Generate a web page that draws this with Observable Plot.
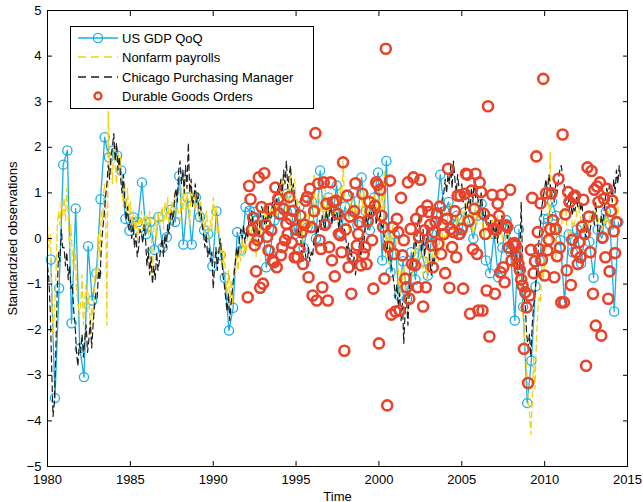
<!DOCTYPE html>
<html>
<head>
<meta charset="utf-8">
<script src="https://cdn.jsdelivr.net/npm/d3@7"></script>
<script src="https://cdn.jsdelivr.net/npm/@observablehq/plot@0.6"></script>
<style>
  html, body { margin: 0; padding: 0; background: #fff; }
  #chart { width: 643px; height: 502px; }
</style>
</head>
<body>
<div id="chart"></div>
<script>
// ---- Series names ----
const seriesNames = ["US GDP QoQ", "Nonfarm payrolls", "Chicago Purchasing Manager", "Durable Goods Orders"];
const xTicks = [1980, 1985, 1990, 1995, 2000, 2005, 2010, 2015];
const yTicks = [-5, -4, -3, -2, -1, 0, 1, 2, 3, 4, 5];

// ---- US GDP QoQ (quarterly, standardized) ----
const gdpStart = 1980.2;
const gdpValues = [
  -0.46,-3.5,-1.09,1.62,1.93,-1.86,0.66,-2.41,-3.04,-0.17,-1.36,-0.76,0.86,2.22,1.78,1.93,
  1.82,1.49,0.43,0.17,0.46,0.36,1.23,0.1,0.36,-0.25,0.47,-0.2,0.03,0.63,0.36,1.37,
  -0.13,0.9,-0.13,0.9,0.47,0.18,0.1,-0.61,0.6,-0.37,-0.86,-2.02,-1.52,0.14,-0.26,0.69,
  0.61,0.58,0.44,0.5,-0.63,-0.26,0.4,0.9,0.5,0.98,0.6,0.1,0.7,-0.2,0.25,0.8,
  0.0,1.49,0.33,0.9,0.5,1.16,0.13,0.7,0.47,1.0,0.3,1.34,0.6,0.18,0.9,1.45,
  -0.48,1.7,-0.74,0.09,-1.25,-0.5,-1.32,-0.3,-0.9,-0.15,-0.5,-0.81,0.1,0.36,1.4,0.6,
  0.8,0.3,0.5,0.1,0.58,0.4,0.0,0.5,0.76,-0.48,-0.76,0.1,-0.85,-0.2,0.4,-0.3,
  -1.8,0.2,-1.5,-3.61,-2.68,-1.05,-0.48,0.43,0.44,0.8,0.5,-0.04,-1.4,0.09,-0.3,0.2,
  -0.55,0.1,-0.07,-0.86,0.2,0.0,0.59,0.3,-1.6,0.36
];

// ---- Nonfarm payrolls (monthly from Jan 1980) ----
const nfpStart = 1980;
const nfpValues = [
  0.3,-0.2,0.1,-1.0,-2.2,-1.6,-0.9,0.2,0.6,0.3,0.8,0.5,
  0.9,0.4,1.1,0.5,-0.2,0.3,-0.4,-0.7,-0.2,-1.1,-1.4,-1.7,
  -1.5,-0.8,-1.9,-1.3,-1.0,-1.6,-1.2,-2.1,-1.5,-1.8,-1.0,-0.6,
  -0.9,0.1,-0.4,0.6,0.4,1.2,1.0,-1.9,2.8,1.4,1.9,1.2,
  2.0,1.6,1.2,1.9,1.4,1.8,1.0,0.7,1.2,0.6,1.1,0.4,
  0.8,0.3,0.6,0.2,0.5,-0.1,0.4,0.3,0.6,0.2,0.5,0.3,
  0.5,0.1,0.6,0.3,-0.9,0.2,0.5,0.0,0.6,0.3,0.5,0.7,
  0.2,0.8,0.4,0.9,0.3,0.6,0.8,0.4,1.0,0.6,0.7,0.5,
  0.4,1.1,0.6,1.3,0.5,1.0,0.7,0.3,1.2,0.8,1.0,0.6,
  0.9,0.6,0.4,0.8,0.2,0.5,0.1,0.6,0.3,0.0,0.4,0.2,
  0.9,0.5,0.7,0.1,0.3,-0.3,-0.1,-0.6,-0.3,-0.9,-1.2,-0.7,
  -1.5,-0.9,-1.4,-0.6,-0.8,-0.3,-0.7,-0.2,-0.5,0.0,-0.4,-0.1,
  -0.3,0.1,0.3,-0.2,0.4,0.0,0.3,-0.4,0.2,0.5,0.1,0.4,
  0.6,0.8,0.2,0.7,0.4,0.3,0.8,0.5,0.6,0.9,0.5,0.8,
  0.6,0.9,1.3,0.8,1.0,0.6,1.2,0.7,1.5,0.9,1.1,1.3,
  0.7,0.9,0.3,0.5,-0.2,0.4,0.1,0.6,0.3,0.5,0.2,0.4,
  0.3,1.4,0.5,0.7,1.0,0.8,0.6,0.9,0.4,1.1,0.7,0.5,
  0.8,0.6,1.0,0.7,0.5,0.9,0.6,0.2,1.1,0.8,1.7,0.9,
  0.7,0.5,0.2,0.6,1.0,0.5,0.3,0.8,0.6,0.4,0.9,1.0,
  0.6,1.1,0.3,0.8,0.4,0.7,0.9,0.3,0.5,1.0,0.7,0.6,
  0.9,0.3,1.2,0.6,1.5,-0.4,0.2,-0.6,0.1,-0.2,0.4,0.3,
  0.0,-0.3,-0.6,-1.3,-0.7,-0.9,-0.6,-1.0,-1.4,-1.6,-1.2,-0.9,
  -0.8,-0.5,-0.2,-0.6,-0.3,-0.1,-0.4,-0.6,-0.8,-0.3,-0.5,-0.9,
  -0.3,-0.7,-0.5,-0.2,-0.4,-0.1,-0.3,-0.5,0.0,0.2,0.1,-0.2,
  0.2,0.0,0.6,0.5,0.8,0.2,0.3,0.2,0.3,0.6,0.4,0.3,
  0.3,0.6,0.4,0.8,0.3,0.5,0.6,0.4,0.1,0.2,0.8,0.3,
  0.5,0.6,0.5,0.3,0.0,0.2,0.3,0.2,0.1,0.0,0.4,0.3,
  0.4,0.0,0.5,0.1,0.3,0.1,-0.1,-0.3,0.2,0.0,0.3,-0.2,
  -0.3,-0.6,-0.5,-0.7,-0.5,-0.8,-0.9,-1.1,-1.6,-1.9,-2.4,-2.9,
  -3.5,-3.8,-4.3,-3.6,-2.6,-3.3,-2.3,-1.6,-1.3,-1.4,-0.6,-0.9,
  -0.5,-0.2,0.3,0.6,1.9,-0.4,-0.3,-0.2,-0.5,0.4,0.3,0.2,
  0.1,0.6,0.7,0.8,0.3,0.1,0.2,0.0,0.4,0.3,0.4,0.5,
  0.8,0.6,0.5,0.2,0.3,0.1,0.3,0.4,0.3,0.5,0.4,0.6,
  0.4,0.8,0.3,0.4,0.5,0.5,0.2,0.4,0.3,0.5,0.6,0.2,
  0.3,0.4,0.6,0.9,0.5,0.7,0.5,0.4
];

// ---- Chicago Purchasing Manager (monthly from Jan 1980) ----
const pmiStart = 1980;
const pmiValues = [
  -0.6,-0.9,-1.6,-2.8,-3.9,-3.6,-2.5,-1.2,-0.3,-0.5,0.2,-0.2,
  -0.2,-0.6,-0.3,-0.9,-0.6,-1.1,-1.0,-1.6,-1.9,-2.5,-2.8,-2.3,
  -2.5,-2.1,-2.6,-2.2,-1.9,-2.5,-2.2,-1.8,-2.4,-1.9,-1.5,-1.2,
  -1.3,-0.7,-0.9,-0.2,0.2,0.5,0.9,1.2,1.6,1.3,1.8,2.0,
  2.3,1.7,2.1,1.5,1.8,1.3,1.0,1.4,0.8,0.4,0.7,0.2,
  0.4,0.0,0.3,-0.2,0.1,-0.4,-0.2,0.2,0.1,-0.1,0.3,0.0,
  -0.6,-0.2,-0.8,-0.4,-1.0,-0.6,-0.9,-0.3,-0.7,-0.5,-0.2,0.0,
  -0.4,0.1,-0.2,0.3,0.1,0.5,0.6,0.3,0.9,1.1,0.8,1.5,
  1.7,1.2,1.5,1.0,1.6,1.1,2.1,1.0,1.3,0.7,0.9,1.2,
  0.8,1.0,0.5,0.7,0.3,0.1,-0.2,0.1,-0.4,-0.2,-0.5,-0.3,
  -1.1,-0.6,-0.2,-0.7,-0.3,0.0,-0.3,-0.8,-1.0,-1.3,-1.6,-1.2,
  -1.8,-1.4,-1.1,-0.8,-0.5,-0.2,-0.4,0.0,0.2,0.0,0.3,-0.1,
  0.2,0.0,0.5,0.3,0.6,0.2,0.1,0.4,0.3,-0.1,0.5,0.7,
  0.6,0.3,0.5,0.2,0.7,0.3,0.5,0.8,0.6,1.0,0.8,1.2,
  1.0,1.3,0.9,1.5,1.2,1.7,1.1,1.4,1.6,1.0,1.2,0.9,
  0.7,0.4,0.1,0.2,-0.3,-0.5,-0.1,-0.4,-0.6,-0.2,-0.5,-0.3,
  -0.4,0.0,-0.2,0.3,0.1,0.4,0.2,0.5,0.3,0.2,0.6,0.4,
  0.5,0.8,0.3,0.6,0.4,0.7,0.5,0.2,0.6,0.3,0.1,0.2,
  0.0,-0.3,-0.1,-0.5,-0.2,-0.7,-0.4,-0.8,-0.5,-0.3,-0.1,-0.4,
  0.1,-0.2,0.3,0.5,0.2,0.6,0.4,0.7,0.5,0.8,0.3,0.5,
  0.4,0.6,0.2,0.3,0.0,-0.3,-0.1,-0.5,-0.2,-0.6,-0.8,-1.0,
  -1.3,-1.0,-1.5,-1.2,-1.8,-1.4,-2.3,-1.6,-1.3,-1.9,-1.1,-0.8,
  -0.6,-0.3,0.1,-0.2,0.3,0.5,0.0,-0.3,0.2,-0.4,-0.1,0.2,
  -0.2,-0.5,-0.8,-0.4,-0.6,-0.2,0.1,0.4,0.3,0.7,0.9,1.0,
  1.3,1.0,1.4,1.2,1.6,1.1,1.7,1.3,1.0,1.4,1.1,0.9,
  1.2,0.8,1.0,0.5,0.7,0.9,0.6,1.1,0.8,1.3,0.9,1.0,
  0.8,0.6,1.0,0.7,0.4,0.6,0.3,0.5,0.2,0.4,0.1,0.3,
  0.0,0.3,-0.1,0.4,0.2,0.5,0.3,0.1,0.2,0.0,0.3,0.1,
  -0.4,-0.2,-0.6,-0.3,-0.5,-0.8,-0.6,0.8,-0.5,-1.3,-1.5,-2.1,
  -2.4,-2.1,-2.6,-1.9,-1.5,-1.2,-0.8,-0.4,0.0,0.3,0.7,0.9,
  1.1,1.3,1.0,1.4,1.2,0.9,1.1,0.8,1.2,1.0,1.3,1.5,
  1.6,1.4,1.2,1.0,0.7,0.9,0.6,0.8,0.5,0.7,0.6,0.9,
  0.7,0.9,0.6,0.8,0.4,0.2,0.0,0.3,0.1,0.2,0.4,0.6,
  0.3,0.8,0.4,0.0,0.2,0.5,0.3,0.6,0.9,1.1,0.9,1.2,
  1.1,0.8,1.3,1.0,1.5,1.2,1.6,1.3
];

// ---- Durable Goods Orders (monthly from Feb 1992) ----
const dgoStart = 1992 + 1 / 12;
const dgoValues = [
  -1.29,1.15,0.86,0.19,0.45,-0.15,-0.72,-0.03,1.34,-1.08,0.69,-0.99,1.43,0.3,0.04,-0.26,
  0.65,0.18,-0.48,-0.52,1.12,-0.63,0.87,0.54,-0.37,-0.19,0.65,-0.04,0.32,0.1,0.91,0.43,
  -0.1,0.61,-0.41,0.2,-0.41,-0.23,0.5,0.14,-0.56,0.3,0.83,0.91,-0.85,1.09,0.25,-1.25,
  0.6,2.31,-1.36,1.2,-0.04,-0.23,-1.07,1.23,0.3,0.76,-1.36,-0.19,1.23,-0.48,0.8,-0.83,
  0.83,0.54,0.1,0.07,-0.3,1.67,-2.46,0.2,0.94,-0.63,0.48,-1.21,-0.41,0.6,1.21,-0.15,
  0.1,0.36,-0.59,0.98,-0.34,-0.19,-0.56,0.39,0.8,0.6,-0.04,-1.1,0.72,1.23,1.18,-2.3,
  1.07,0.5,0.25,-0.88,4.16,-3.66,-0.18,1.27,-1.67,0.25,-0.34,-1.6,0.43,0.14,-1.58,0.89,
  -0.37,-0.04,-0.88,-1.07,1.23,-1.32,0.21,-0.56,1.34,-0.59,0.43,-1.07,0.03,1.29,0.6,-1.49,
  0.18,-1.07,0.72,0.58,0.3,-0.15,-0.63,0.14,0.36,0.55,-0.12,0.7,-0.34,0.3,0.1,-0.76,
  0.43,1.53,-1.08,0.21,-0.19,0.14,0.6,-0.41,0.94,0.1,0.94,0.21,-1.1,0.98,1.42,1.4,
  0.38,-1.65,1.05,-0.23,0.65,1.42,-0.34,-1.58,1.23,1.02,-1.58,0.54,0.1,-1.14,2.9,-2.15,
  0.4,0.96,0.21,-1.21,0.19,0.76,0.5,-0.74,0.96,-0.63,-0.96,0.29,0.25,-0.2,1.07,-0.48,
  -0.12,-0.1,-0.15,-0.4,-0.56,-0.69,-0.9,-1.03,-2.42,-1.18,-1.51,-3.17,-1.25,-0.25,0.89,-0.76,
  -0.5,1.8,0.14,-0.23,0.77,-0.47,3.5,-0.81,0.99,-0.26,-0.03,0.21,0.99,0.4,-0.85,0.21,
  -0.39,1.31,-0.2,-1.4,2.28,-1.4,0.53,-0.7,1.02,0.8,-1.02,-0.03,0.91,0.94,-0.3,-0.56,
  -0.08,-0.41,0.26,0.85,0.1,-2.79,1.56,0.48,-0.3,1.48,-1.21,1.07,-1.91,1.14,0.8,1.23,
  -2.13,0.02,0.87,-0.41,1.09,-1.32,-0.72,0.6,0.83,0.16,-0.32,0.36
];

// ---- Build tables ----
const gdp = gdpValues.map((v, i) => ({t: gdpStart + i * 0.25, v}));
const nfp = nfpValues.map((v, i) => ({t: nfpStart + i / 12, v}));
const pmi = pmiValues.map((v, i) => ({t: pmiStart + i / 12, v}));
const dgo = dgoValues.map((v, i) => ({t: dgoStart + i / 12, v}));

const colors = {gdp: "#1aaee5", nfp: "#f5d10f", pmi: "#1e1e1e", dgo: "#e8432b"};
const axisFont = '"Liberation Sans", Arial, sans-serif';

const plot = Plot.plot({
  width: 643,
  height: 502,
  marginLeft: 47,
  marginRight: 16,
  marginTop: 10,
  marginBottom: 36,
  style: {fontFamily: axisFont, fontSize: "13px", color: "#000", background: "#fff"},
  x: {domain: [1980, 2015]},
  y: {domain: [-5, 5]},
  marks: [
    Plot.line(gdp, {x: "t", y: "v", stroke: colors.gdp, strokeWidth: 1.3}),
    Plot.dot(gdp, {x: "t", y: "v", r: 4.6, stroke: colors.gdp, strokeWidth: 1.3, fill: "none"}),
    Plot.line(nfp, {x: "t", y: "v", stroke: colors.nfp, strokeWidth: 1.3, strokeDasharray: "6,4"}),
    Plot.line(pmi, {x: "t", y: "v", stroke: colors.pmi, strokeWidth: 1.2, strokeDasharray: "6,4"}),
    Plot.dot(dgo, {x: "t", y: "v", r: 5, stroke: colors.dgo, strokeWidth: 2.6, fill: "none"}),
    Plot.frame({stroke: "#000", strokeWidth: 1}),
    Plot.axisX({anchor: "bottom", ticks: xTicks, tickFormat: d => String(d), tickSize: -5, tickPadding: 13, label: "Time", labelAnchor: "center", labelArrow: "none", labelOffset: 34, fontSize: 13}),
    Plot.axisX({anchor: "top", ticks: xTicks, tickFormat: () => "", tickSize: -5, label: null}),
    Plot.axisY({anchor: "left", ticks: yTicks, tickSize: -5, tickPadding: 11, label: "Standardzied observations", labelAnchor: "center", labelOffset: 40, labelArrow: "none", fontSize: 13}),
    Plot.axisY({anchor: "right", ticks: yTicks, tickFormat: () => "", tickSize: -5, label: null})
  ]
});

document.getElementById("chart").appendChild(plot);

// ---- Legend (inside plot, top-left) ----
const svg = d3.select(plot);
const lg = svg.append("g")
  .attr("font-family", axisFont)
  .attr("font-size", 13)
  .attr("text-anchor", "start");
const box = {x: 70.5, y: 26.5, w: 243, h: 82};
lg.append("rect").attr("x", box.x).attr("y", box.y).attr("width", box.w).attr("height", box.h)
  .attr("fill", "#fff").attr("stroke", "#000").attr("stroke-width", 1);
const rows = [38, 57, 77, 96];
const keys = ["gdp", "nfp", "pmi", "dgo"];
keys.forEach((k, i) => {
  const y = rows[i];
  if (k === "gdp") {
    lg.append("line").attr("x1", 78).attr("x2", 118).attr("y1", y).attr("y2", y).attr("stroke", colors.gdp).attr("stroke-width", 1.3);
    lg.append("circle").attr("cx", 98).attr("cy", y).attr("r", 4.6).attr("fill", "none").attr("stroke", colors.gdp).attr("stroke-width", 1.3);
  } else if (k === "nfp" || k === "pmi") {
    lg.append("line").attr("x1", 78).attr("x2", 118).attr("y1", y).attr("y2", y).attr("stroke", colors[k]).attr("stroke-width", 1.3).attr("stroke-dasharray", "8,5");
  } else {
    lg.append("circle").attr("cx", 98).attr("cy", y).attr("r", 3.5).attr("fill", "none").attr("stroke", colors.dgo).attr("stroke-width", 2.4);
  }
  lg.append("text").attr("x", 122).attr("y", y).attr("dy", "0.36em").attr("fill", "#000").text(seriesNames[i]);
});
</script>
</body>
</html>
